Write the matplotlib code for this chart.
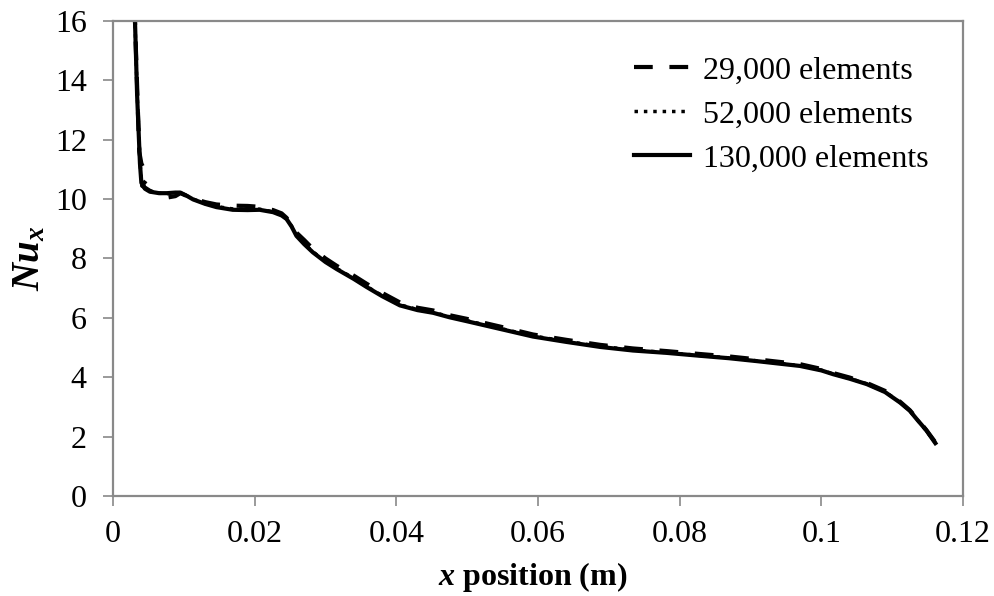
import matplotlib.pyplot as plt
from matplotlib.ticker import FormatStrFormatter

plt.rcParams['font.family'] = ['Liberation Serif', 'DejaVu Serif']
plt.rcParams['mathtext.fontset'] = 'custom'
plt.rcParams['mathtext.it'] = 'Liberation Serif:italic:bold'
plt.rcParams['mathtext.rm'] = 'Liberation Serif:bold'

# posiciones x (m) comunes para las mallas de 52k y 130k
x_pos = [0.0030, 0.0031, 0.0034, 0.0038, 0.0040, 0.0045, 0.0052, 0.0065, 0.0076,
         0.0088, 0.0095, 0.0105, 0.0113, 0.0130, 0.0146, 0.0169, 0.0190, 0.0207,
         0.0226, 0.0238, 0.0245, 0.0252, 0.0259, 0.0270, 0.0282, 0.0300, 0.0316,
         0.0340, 0.0358, 0.0380, 0.0405, 0.0430, 0.0452, 0.0475, 0.0499, 0.0546,
         0.0593, 0.0640, 0.0688, 0.0734, 0.0782, 0.0825, 0.0870, 0.0910, 0.0970,
         0.1000, 0.1017, 0.1040, 0.1064, 0.1090, 0.1111, 0.1125, 0.1135, 0.1148,
         0.1161]

nu_130k = [16.5, 16.0, 13.5, 11.2, 10.55, 10.35, 10.25, 10.2, 10.2,
           10.22, 10.22, 10.1, 9.99, 9.84, 9.73, 9.64, 9.63, 9.64,
           9.56, 9.45, 9.33, 9.08, 8.76, 8.48, 8.21, 7.88, 7.64,
           7.31, 7.04, 6.73, 6.42, 6.26, 6.17, 6.02, 5.89, 5.63,
           5.37, 5.19, 5.02, 4.90, 4.82, 4.73, 4.64, 4.54, 4.38,
           4.23, 4.10, 3.95, 3.77, 3.50, 3.15, 2.87, 2.58, 2.22,
           1.78]

nu_52k = [16.5, 16.0, 13.6, 11.3, 10.6, 10.38, 10.27, 10.2, 10.18,
          10.2, 10.22, 10.1, 10.0, 9.85, 9.75, 9.67, 9.66, 9.66,
          9.57, 9.46, 9.34, 9.09, 8.78, 8.5, 8.23, 7.9, 7.66,
          7.33, 7.06, 6.75, 6.44, 6.28, 6.19, 6.04, 5.91, 5.65,
          5.39, 5.21, 5.04, 4.92, 4.83, 4.74, 4.65, 4.55, 4.39,
          4.24, 4.11, 3.96, 3.78, 3.51, 3.16, 2.87, 2.58, 2.21,
          1.79]

# malla de 29k (incluye el gancho cerca de x = 0.005)
x_29k = [0.0030, 0.0031, 0.0034, 0.0037, 0.0040, 0.0045, 0.0049, 0.0041, 0.0052,
         0.0065, 0.0076, 0.0088, 0.0095, 0.0113, 0.0130, 0.0146, 0.0169, 0.0190,
         0.0207, 0.0226, 0.0238, 0.0245, 0.0252, 0.0259, 0.0270, 0.0282, 0.0300,
         0.0316, 0.0340, 0.0358, 0.0380, 0.0405, 0.0430, 0.0452, 0.0475, 0.0499,
         0.0546, 0.0593, 0.0640, 0.0688, 0.0734, 0.0782, 0.0825, 0.0870, 0.0910,
         0.0970, 0.1000, 0.1017, 0.1040, 0.1064, 0.1090, 0.1111, 0.1125, 0.1135,
         0.1148, 0.1161]

nu_29k = [16.5, 16.0, 13.8, 11.6, 11.2, 10.95, 10.7, 10.45, 10.28,
          10.15, 10.05, 10.1, 10.2, 10.02, 9.9, 9.82, 9.78, 9.77,
          9.74, 9.63, 9.52, 9.37, 9.12, 8.87, 8.62, 8.33, 8.0,
          7.75, 7.42, 7.15, 6.84, 6.52, 6.34, 6.25, 6.09, 5.97,
          5.71, 5.44, 5.26, 5.09, 4.97, 4.88, 4.79, 4.70, 4.60,
          4.44, 4.28, 4.14, 3.99, 3.81, 3.54, 3.18, 2.89, 2.61,
          2.23, 1.81]

fig = plt.figure(figsize=(9.95, 5.96), dpi=100)
ax = fig.add_axes([0.1136, 0.1678, 0.8542, 0.797])

ax.plot(x_29k, nu_29k, color='black', lw=3, dashes=(4.5, 4), label='29,000 elements')
ax.plot(x_pos, nu_52k, color='black', lw=2.5, linestyle=(0, (1, 1.7)), label='52,000 elements')
ax.plot(x_pos, nu_130k, color='black', lw=3, label='130,000 elements')

ax.set_xlim(0, 0.12)
ax.set_ylim(0, 16)
ax.set_xticks([0, 0.02, 0.04, 0.06, 0.08, 0.1, 0.12])
ax.set_yticks(range(0, 17, 2))
ax.xaxis.set_major_formatter(FormatStrFormatter('%g'))

for s in ax.spines.values():
    s.set_color('#898989')
    s.set_linewidth(1.6)
ax.tick_params(axis='both', colors='#898989', labelcolor='black', labelsize=23,
               length=7, width=1.2, direction='out')
ax.tick_params(axis='y', pad=12)
ax.tick_params(axis='x', pad=10)

ax.set_ylabel(r'$Nu_x$', fontsize=28)
ax.yaxis.set_label_coords(-0.076, 0.5)
ax.set_xlabel(r'$x$ position (m)', fontsize=23, fontweight='bold')
ax.xaxis.set_label_coords(0.494, -0.135)

ax.legend(loc='upper left', bbox_to_anchor=(634 / 995, 1 - 56 / 596),
          bbox_transform=fig.transFigure, frameon=False, fontsize=23,
          borderpad=0, borderaxespad=0, handlelength=1.75,
          handletextpad=0.4, labelspacing=0.46)

fig.savefig('out.png', dpi=100)
